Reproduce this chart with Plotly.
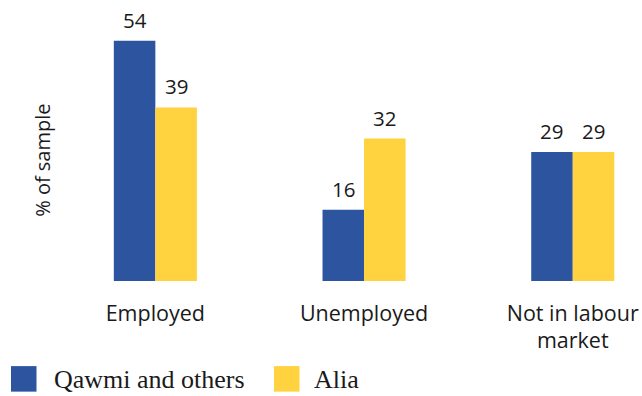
import plotly.graph_objects as go

# Labour-market status by group (% of sample)
categories = ["Employed", "Unemployed", "Not in labour<br>market"]
series_names = ["Qawmi and others", "Alia"]
qawmi_values = [54, 16, 29]
alia_values = [39, 32, 29]

BLUE = "#2D549F"
YELLOW = "#FFD23F"
SANS = "Open Sans, sans-serif"
SERIF = "Liberation Serif, serif"

W, H = 642, 396
M_L, M_R, M_T, M_B = 51, 0, 14.33, 115
PW = W - M_L - M_R
PH = H - M_T - M_B


def px_x(px):
    """Convert a horizontal pixel position to paper coordinates."""
    return (px - M_L) / PW


def px_y(py):
    """Convert a vertical pixel position to paper coordinates."""
    return (H - M_B - py) / PH


fig = go.Figure()
for name, vals, col in [(series_names[0], qawmi_values, BLUE),
                        (series_names[1], alia_values, YELLOW)]:
    fig.add_trace(go.Bar(
        x=categories, y=vals, name=name,
        marker=dict(color=col, line=dict(width=0)),
        showlegend=False,
    ))

# value labels above each bar
bar_half = 20.8
annotations = []
for vals, shift in [(qawmi_values, -bar_half), (alia_values, bar_half)]:
    for cat, v in zip(categories, vals):
        annotations.append(dict(
            x=cat, y=v, xref="x", yref="y", text=str(v), showarrow=False,
            xanchor="center", yanchor="bottom", xshift=shift, yshift=5,
            font=dict(family=SANS, size=20.5, color="#1a1a1a"),
        ))

# y-axis title
annotations.append(dict(
    x=px_x(43), y=px_y(161), xref="paper", yref="paper",
    text="% of sample", textangle=-90, showarrow=False,
    xanchor="center", yanchor="middle",
    font=dict(family=SANS, size=20, color="#1a1a1a"),
))

# legend drawn as swatches + labels
shapes = []
legend_items = [(series_names[0], BLUE, 11, 52), (series_names[1], YELLOW, 274, 312)]
for name, col, sx, tx in legend_items:
    shapes.append(dict(
        type="rect", xref="paper", yref="paper",
        x0=px_x(sx), x1=px_x(sx + 25.5), y0=px_y(391.5), y1=px_y(366),
        fillcolor=col, line=dict(width=0),
    ))
    annotations.append(dict(
        x=px_x(tx), y=px_y(379), xref="paper", yref="paper", text=name,
        showarrow=False, xanchor="left", yanchor="middle",
        font=dict(family=SERIF, size=26, color="#1a1a1a"),
    ))

fig.update_layout(
    width=W, height=H,
    margin=dict(l=M_L, r=M_R, t=M_T, b=M_B, pad=0),
    paper_bgcolor="white", plot_bgcolor="white",
    barmode="group", bargap=0.602, bargroupgap=0,
    xaxis=dict(
        type="category", range=[-0.5, PW / 208.7 - 0.5],
        showline=False, showgrid=False, zeroline=False, ticks="",
        tickfont=dict(family=SANS, size=21.5, color="#1a1a1a"),
        ticklabelstandoff=17,
    ),
    yaxis=dict(
        range=[0, 60], showline=False, showgrid=False, zeroline=False,
        showticklabels=False, ticks="",
    ),
    annotations=annotations, shapes=shapes,
)

fig.write_html("out.html")
